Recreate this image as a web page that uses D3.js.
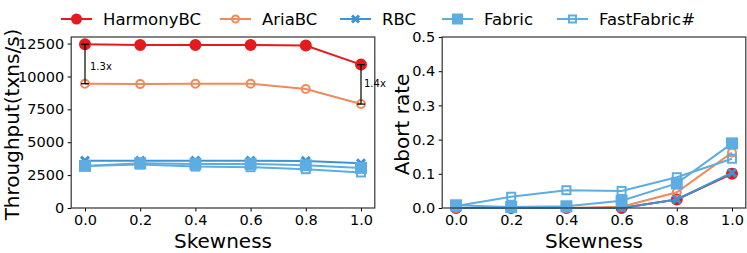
<!DOCTYPE html>
<html>
<head>
<meta charset="utf-8">
<script src="https://cdn.jsdelivr.net/npm/d3@7"></script>
<style>
  body { margin: 0; background: #fff; }
  svg { font-family: "DejaVu Sans", sans-serif; }
</style>
</head>
<body>
<div id="chart"></div>
<script>
// Data
const skew = [0.0, 0.2, 0.4, 0.6, 0.8, 1.0];
const seriesNames = ['HarmonyBC', 'AriaBC', 'RBC', 'Fabric', 'FastFabric#'];

const tputHarmony = [12450, 12400, 12400, 12400, 12350, 10900];
const tputAria = [9450, 9420, 9450, 9450, 9050, 7900];
const tputRBC = [3600, 3600, 3600, 3600, 3580, 3400];
const tputFabric = [3200, 3400, 3350, 3350, 3250, 3050];
const tputFast = [3200, 3300, 3150, 3100, 2950, 2700];

const abortHarmony = [0.0, 0.0, 0.0, 0.0, 0.025, 0.100];
const abortAria = [0.0, 0.0, 0.0, 0.004, 0.046, 0.162];
const abortRBC = [0.0, 0.0, 0.0, 0.0, 0.025, 0.103];
const abortFabric = [0.008, 0.003, 0.005, 0.021, 0.072, 0.189];
const abortFast = [0.006, 0.033, 0.052, 0.050, 0.090, 0.144];

const xTicks = [0.0, 0.2, 0.4, 0.6, 0.8, 1.0];
const tputTicks = [0, 2500, 5000, 7500, 10000, 12500];
const abortTicks = [0.0, 0.1, 0.2, 0.3, 0.4, 0.5];

const styles = {
  'HarmonyBC': { color: '#e41a1c', marker: 'circle', fill: true },
  'AriaBC': { color: '#ef8a5a', marker: 'circle', fill: false },
  'RBC': { color: '#3f93d2', marker: 'x', fill: true },
  'Fabric': { color: '#5dade2', marker: 'square', fill: true },
  'FastFabric#': { color: '#5dade2', marker: 'square', fill: false }
};

const W = 747, H = 253;
const svg = d3.select('#chart').append('svg')
  .attr('width', W).attr('height', H);

function drawMarker(g, type, x, y, size, st) {
  if (type === 'circle') {
    g.append('circle').attr('cx', x).attr('cy', y).attr('r', size / 2 - (st.fill ? 0 : 1))
      .attr('fill', st.fill ? st.color : 'none')
      .attr('stroke', st.color).attr('stroke-width', 2);
  } else if (type === 'square') {
    const s = size - (st.fill ? 0 : 2);
    g.append('rect').attr('x', x - s / 2).attr('y', y - s / 2)
      .attr('width', s).attr('height', s)
      .attr('fill', st.fill ? st.color : 'none')
      .attr('stroke', st.color).attr('stroke-width', 2);
  } else if (type === 'x') {
    const h = size / 2 - 1;
    g.append('path')
      .attr('d', `M${x - h},${y - h}L${x + h},${y + h}M${x - h},${y + h}L${x + h},${y - h}`)
      .attr('stroke', st.color).attr('stroke-width', 3).attr('fill', 'none');
  }
}

function panel(left, right, yDomain, yTicks, yFmt, yLabel, labelX, data) {
  const top = 37, bottom = 208;
  const x = d3.scaleLinear().domain([-0.05, 1.05]).range([left, right]);
  const y = d3.scaleLinear().domain(yDomain).range([bottom, top]);
  const g = svg.append('g');

  const xAxis = g.append('g').attr('transform', `translate(0,${bottom})`)
    .call(d3.axisBottom(x).tickValues(xTicks).tickFormat(d3.format('.1f')).tickSize(3.5).tickPadding(3.5));
  const yAxis = g.append('g').attr('transform', `translate(${left},0)`)
    .call(d3.axisLeft(y).tickValues(yTicks).tickFormat(yFmt).tickSize(3.5).tickPadding(3.5));
  [xAxis, yAxis].forEach(a => {
    a.select('.domain').remove();
    a.selectAll('text').attr('font-size', 14.5).attr('fill', '#000')
      .attr('font-family', '"DejaVu Sans", sans-serif');
    a.selectAll('line').attr('stroke', '#000').attr('stroke-width', 1);
  });

  g.append('text').attr('x', (left + right) / 2).attr('y', 248)
    .attr('text-anchor', 'middle').attr('font-size', 20).text('Skewness');
  g.append('text').attr('transform', `translate(${labelX},${(top + bottom) / 2 + 2}) rotate(-90)`)
    .attr('text-anchor', 'middle').attr('font-size', 20).text(yLabel);

  const line = d3.line().x((d, i) => x(skew[i])).y(d => y(d));
  seriesNames.forEach((name, k) => {
    const st = styles[name];
    const vals = data[k];
    const sg = g.append('g');
    sg.append('path').attr('d', line(vals)).attr('fill', 'none')
      .attr('stroke', st.color).attr('stroke-width', 2);
    vals.forEach((v, i) => drawMarker(sg, st.marker, x(skew[i]), y(v), 10, st));
  });

  g.append('rect').attr('x', left).attr('y', top)
    .attr('width', right - left).attr('height', bottom - top)
    .attr('fill', 'none').attr('stroke', '#333').attr('stroke-width', 1.2);
  return { g, x, y };
}

const p1 = panel(71.2, 374.8, [0, 13000], tputTicks, d3.format('d'), 'Throughput(txns/s)', 19,
  [tputHarmony, tputAria, tputRBC, tputFabric, tputFast]);
const p2 = panel(442.2, 745.8, [0, 0.5], abortTicks, d3.format('.1f'), 'Abort rate', 409,
  [abortHarmony, abortAria, abortRBC, abortFabric, abortFast]);

// speedup annotations
const speedups = [
  { i: 0, label: '1.3x', ty: 10750, dx: 5 },
  { i: 5, label: '1.4x', ty: 9450, dx: 3 }
];
speedups.forEach(s => {
  const xs = p1.x(skew[s.i]);
  const y1 = p1.y(tputHarmony[s.i]), y2 = p1.y(tputAria[s.i]);
  const a = p1.g.append('g').attr('stroke', '#000').attr('stroke-width', 1.2);
  a.append('line').attr('x1', xs).attr('x2', xs).attr('y1', y1).attr('y2', y2);
  a.append('line').attr('x1', xs - 4).attr('x2', xs + 4).attr('y1', y1).attr('y2', y1);
  a.append('line').attr('x1', xs - 4).attr('x2', xs + 4).attr('y1', y2).attr('y2', y2);
  p1.g.append('text').attr('x', xs + s.dx).attr('y', p1.y(s.ty)).attr('dy', '0.35em')
    .attr('font-size', 10).text(s.label);
});

// legend
const legendX = [61, 220, 340, 442, 557];
const leg = svg.append('g');
seriesNames.forEach((name, k) => {
  const st = styles[name];
  const lx = legendX[k], ly = 19;
  leg.append('line').attr('x1', lx).attr('x2', lx + 31).attr('y1', ly).attr('y2', ly)
    .attr('stroke', st.color).attr('stroke-width', 2);
  drawMarker(leg, st.marker, lx + 15.5, ly, 9, st);
  leg.append('text').attr('x', lx + 42).attr('y', ly).attr('dy', '0.35em')
    .attr('font-size', 16.5).text(name);
});
</script>
</body>
</html>
